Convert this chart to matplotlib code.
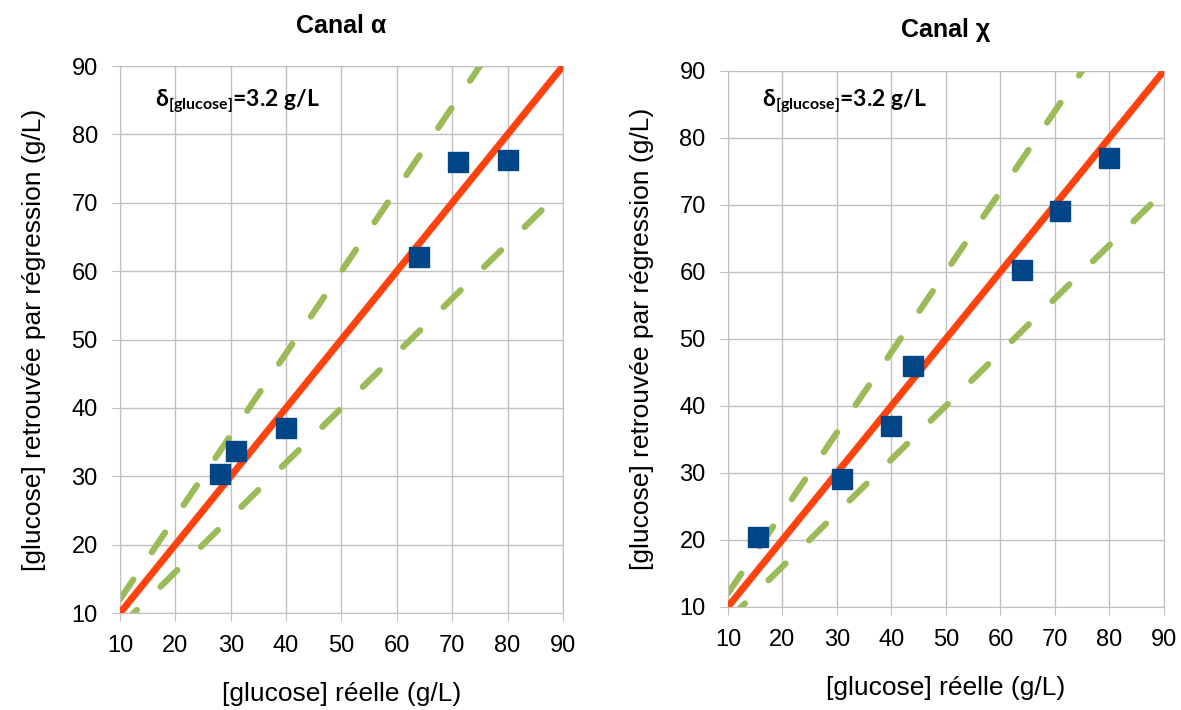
import numpy as np
import matplotlib
matplotlib.use("Agg")
import matplotlib.pyplot as plt

plt.rcParams["font.family"] = ["Liberation Sans", "DejaVu Sans"]

# canal alpha
alpha_reel = [28, 31, 40, 64, 71, 80]
alpha_regr = [30.3, 33.7, 37.0, 62.0, 76.0, 76.2]

# canal chi
chi_reel = [15.5, 31, 40, 44, 64, 71, 80]
chi_regr = [20.4, 29.0, 36.9, 46.0, 60.2, 69.0, 76.9]

# droites de reference : y = x, y = 1.2 x, y = 0.8 x
ref_x = [10, 90]
ref_pente = 1.0
borne_haute = 1.2
borne_basse = 0.8

delta_txt = r"δ$_{\mathregular{[glucose]}}$=3.2 g/L"

PANELS = [
    ("Canal α", alpha_reel, alpha_regr, [0.1016, 0.1366, 0.3751, 0.7704], 0.934),
    ("Canal χ", chi_reel, chi_regr, [0.6164, 0.1455, 0.3692, 0.7549], 0.942),
]

RED = "#FF420E"
GREEN = "#9BBB59"
BLUE = "#004586"
GRID = "#C0C0C0"

fig = plt.figure(figsize=(11.81, 7.10), dpi=100)

for title, xs, ys, rect, txt_y in PANELS:
    ax = fig.add_axes(rect)
    x = np.array(ref_x, dtype=float)

    ax.plot(x, borne_haute * x, color=GREEN, linewidth=4.5, dashes=(3.8, 5.3),
            dash_capstyle="round", zorder=2)
    ax.plot(x, borne_basse * x, color=GREEN, linewidth=4.5, dashes=(3.8, 5.3),
            dash_capstyle="round", zorder=2)
    ax.plot(x, ref_pente * x, color=RED, linewidth=5, zorder=3)
    ax.plot(xs, ys, linestyle="none", marker="s", markersize=15,
            color=BLUE, markeredgecolor=BLUE, zorder=4)

    ax.set_xlim(10, 90)
    ax.set_ylim(10, 90)
    ax.set_xticks(range(10, 91, 10))
    ax.set_yticks(range(10, 91, 10))
    ax.grid(True, color=GRID, linewidth=1)
    ax.set_axisbelow(True)
    for sp in ax.spines.values():
        sp.set_color(GRID)
    ax.tick_params(colors=GRID, labelcolor="black", length=6, pad=10,
                   labelsize=17)

    ax.set_title(title, fontsize=18, fontweight="bold", pad=24)
    ax.set_xlabel("[glucose] réelle (g/L)", fontsize=19, labelpad=18)
    ax.set_ylabel("[glucose] retrouvée par régression (g/L)", fontsize=19,
                  labelpad=18)

    ax.text(0.079, txt_y, delta_txt, transform=ax.transAxes, fontsize=16.5,
            fontweight="bold", family=["Lato", "DejaVu Sans"], va="center")

fig.savefig("out.png", dpi=100)
